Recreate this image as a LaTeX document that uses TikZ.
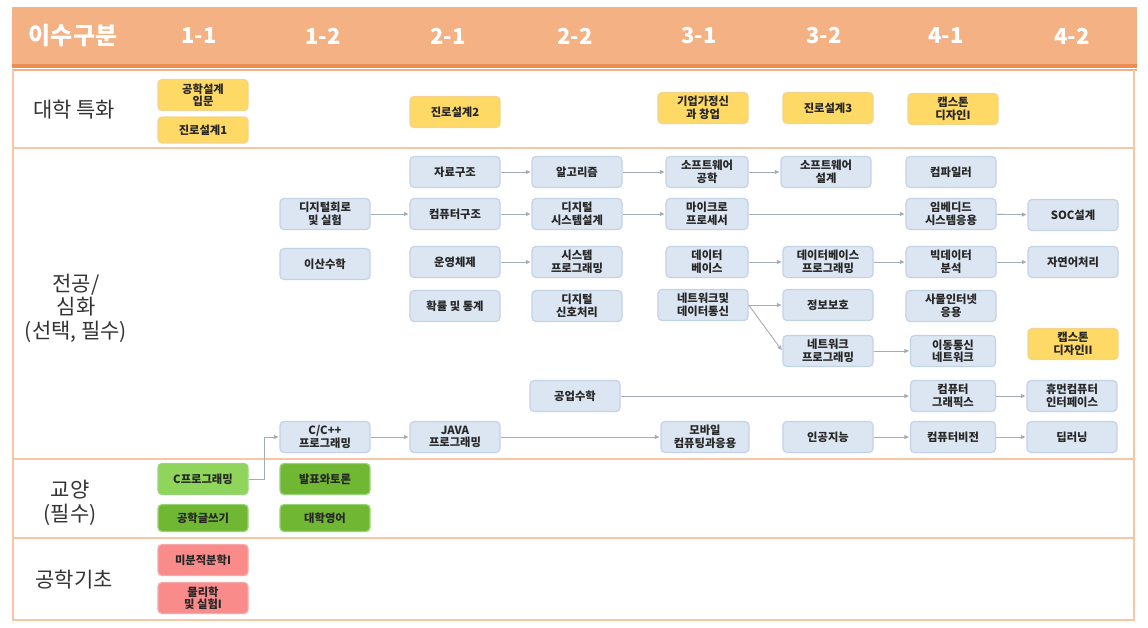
\documentclass[tikz,border=0pt]{standalone}
\usepackage{fontspec}
\setmainfont{Noto Sans CJK KR}
\usepackage{xcolor}
\usepackage{tikz}
\usetikzlibrary{positioning,arrows.meta}

\definecolor{headfill}{HTML}{F4B183}
\definecolor{headline}{HTML}{EE8D52}
\definecolor{gridline}{HTML}{F8C6A4}
\definecolor{bluefill}{HTML}{DCE6F2}
\definecolor{blueline}{HTML}{C3D3E6}
\definecolor{yellowfill}{HTML}{FFD966}
\definecolor{yellowline}{HTML}{F3D48A}
\definecolor{greenlight}{HTML}{8FD45B}
\definecolor{greenfill}{HTML}{70B733}
\definecolor{greenline}{HTML}{9AD47A}
\definecolor{redfill}{HTML}{F98B8B}
\definecolor{redline}{HTML}{F5A9A9}
\definecolor{arrowgray}{HTML}{A3ADBA}
\definecolor{textdark}{HTML}{262626}
\definecolor{labeldark}{HTML}{333333}

\newcommand{\coursefont}{\fontsize{11.3}{12.5}\selectfont\bfseries}

\begin{document}
\begin{tikzpicture}[
  x=1pt, y=-1pt,
  coursebox/.style={rectangle, draw, rounded corners=4pt, line width=1.2pt, minimum width=90pt, minimum height=31pt, inner sep=1pt, align=center, font=\coursefont, text=textdark},
  majorbox/.style={coursebox, fill=bluefill, draw=blueline},
  specialbox/.style={coursebox, fill=yellowfill, draw=yellowline},
  liberalbox/.style={coursebox, fill=greenfill, draw=greenline},
  basicbox/.style={coursebox, fill=redfill, draw=redline},
  rowlabel/.style={align=center, font=\fontsize{21}{23.5}\selectfont, text=labeldark},
  headlabel/.style={font=\fontsize{22}{24}\selectfont\bfseries, text=white},
  arrow/.style={-{Triangle[length=4.5pt, width=4pt]}, draw=arrowgray, line width=0.9pt, shorten >=1pt}
]
  \useasboundingbox (0,0) rectangle (1148,627);

  % header band and table frame
  \fill[headfill] (12,7) rectangle (1137,64);
  \fill[headline] (12,64) rectangle (1137,67.5);
  \fill[headline!70] (12,68.5) rectangle (1137,70.5);
  \draw[gridline, line width=1.6pt] (13,70) -- (13,620) -- (1134,620) -- (1134,70);
  \draw[gridline, line width=1.6pt] (13,148) -- (1134,148);
  \draw[gridline, line width=1.6pt] (13,459) -- (1134,459);
  \draw[gridline, line width=1.6pt] (13,538) -- (1134,538);

  \node[headlabel, font=\fontsize{24}{26}\selectfont\bfseries] (hkind) at (73,36) {이수구분};
  \node[headlabel] (h11) at (199,36) {1-1};
  \node[headlabel] (h12) at (323,36) {1-2};
  \node[headlabel] (h21) at (448,36) {2-1};
  \node[headlabel] (h22) at (575,36) {2-2};
  \node[headlabel] (h31) at (699,36) {3-1};
  \node[headlabel] (h32) at (824,36) {3-2};
  \node[headlabel] (h41) at (946,36) {4-1};
  \node[headlabel] (h42) at (1072,36) {4-2};

  \node[rowlabel] (rspecial) at (74,110) {대학 특화};
  \node[rowlabel] (rmajor) at (76,308) {전공/\\심화\\(선택, 필수)};
  \node[rowlabel] (rliberal) at (70,503) {교양\\(필수)};
  \node[rowlabel] (rbasic) at (74,580) {공학기초};

  % university special
  \node[specialbox] (intro) at (203,95) {공학설계\\입문};
  \node[specialbox, minimum height=26pt] (career1) at (203,130) {진로설계1};
  \node[specialbox] (career2) at (455,112) {진로설계2};
  \node[specialbox] (startup) at (703,108) {기업가정신\\과 창업};
  \node[specialbox] (career3) at (828,108) {진로설계3};
  \node[specialbox] (capstone1) at (953,109) {캡스톤\\디자인I};

  % major
  \node[majorbox] (datastruct) at (455,172) {자료구조};
  \node[majorbox] (algo) at (577,172) {알고리즘};
  \node[majorbox, minimum width=82pt] (swe) at (707,172) {소프트웨어\\공학};
  \node[majorbox] (swdesign) at (826,172) {소프트웨어\\설계};
  \node[majorbox] (compiler) at (951,172) {컴파일러};

  \node[majorbox] (digital) at (325,214) {디지털회로\\및 실험};
  \node[majorbox] (comparch) at (455,214) {컴퓨터구조};
  \node[majorbox] (digsys) at (577,214) {디지털\\시스템설계};
  \node[majorbox, minimum width=82pt] (micro) at (707,214) {마이크로\\프로세서};
  \node[majorbox] (embedded) at (951,214) {임베디드\\시스템응용};
  \node[majorbox] (soc) at (1073,215) {SOC설계};

  \node[majorbox] (discrete) at (325,264) {이산수학};
  \node[majorbox] (os) at (455,262) {운영체제};
  \node[majorbox] (sysprog) at (577,262) {시스템\\프로그래밍};
  \node[majorbox, minimum width=82pt] (db) at (707,262) {데이터\\베이스};
  \node[majorbox] (dbprog) at (828,262) {데이터베이스\\프로그래밍};
  \node[majorbox] (bigdata) at (951,262) {빅데이터\\분석};
  \node[majorbox] (nlp) at (1073,262) {자연어처리};

  \node[majorbox] (prob) at (455,306) {확률 및 통계};
  \node[majorbox] (dsp) at (577,306) {디지털\\신호처리};
  \node[majorbox] (network) at (703,305) {네트워크및\\데이터통신};
  \node[majorbox] (security) at (828,305) {정보보호};
  \node[majorbox] (iot) at (951,306) {사물인터넷\\응용};

  \node[majorbox] (netprog) at (828,351) {네트워크\\프로그래밍};
  \node[majorbox, minimum width=85pt] (mobilenet) at (953,351) {이동통신\\네트워크};
  \node[specialbox] (capstone2) at (1073,344) {캡스톤\\디자인II};

  \node[majorbox] (engmath) at (575,396) {공업수학};
  \node[majorbox, minimum width=85pt] (graphics) at (953,396) {컴퓨터\\그래픽스};
  \node[majorbox] (hci) at (1072,396) {휴먼컴퓨터\\인터페이스};

  \node[majorbox] (cpp) at (325,437) {C/C++\\프로그래밍};
  \node[majorbox] (java) at (455,437) {JAVA\\프로그래밍};
  \node[majorbox, minimum width=88pt] (mobile) at (705,437) {모바일\\컴퓨팅과응용};
  \node[majorbox] (ai) at (828,437) {인공지능};
  \node[majorbox, minimum width=85pt] (vision) at (953,437) {컴퓨터비전};
  \node[majorbox] (deeplearn) at (1072,437) {딥러닝};

  % liberal arts and basics
  \node[liberalbox, fill=greenlight] (cprog) at (203,479) {C프로그래밍};
  \node[liberalbox] (debate) at (325,479) {발표와토론};
  \node[liberalbox, minimum height=27pt] (writing) at (203,518) {공학글쓰기};
  \node[liberalbox, minimum height=27pt] (english) at (325,518) {대학영어};
  \node[basicbox] (calculus) at (203,560) {미분적분학I};
  \node[basicbox] (physics) at (203,598) {물리학\\및 실험I};

  \draw[arrow] (datastruct) -- (algo);
  \draw[arrow] (algo) -- (swe);
  \draw[arrow] (swe) -- (swdesign);
  \draw[arrow] (digital) -- (comparch);
  \draw[arrow] (comparch) -- (digsys);
  \draw[arrow] (digsys) -- (micro);
  \draw[arrow] (micro) -- (embedded);
  \draw[arrow] (embedded) -- (soc);
  \draw[arrow] (os) -- (sysprog);
  \draw[arrow] (db) -- (dbprog);
  \draw[arrow] (dbprog) -- (bigdata);
  \draw[arrow] (bigdata) -- (nlp);
  \draw[arrow] (network.east) -- (security.west);
  \draw[arrow] (network.east) -- (netprog.west);
  \draw[arrow] (netprog) -- (mobilenet);
  \draw[arrow] (engmath) -- (graphics);
  \draw[arrow] (graphics) -- (hci);
  \draw[arrow] (cprog.east) -- ++(16,0) |- (cpp.west);
  \draw[arrow] (cpp) -- (java);
  \draw[arrow] (java) -- (mobile);
  \draw[arrow] (ai) -- (vision);
  \draw[arrow] (vision) -- (deeplearn);
\end{tikzpicture}
\end{document}
